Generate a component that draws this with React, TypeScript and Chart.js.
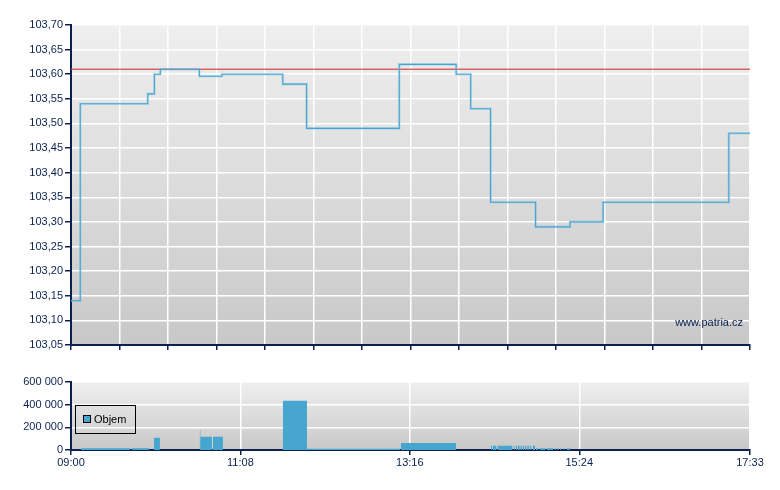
import React, { useEffect, useRef } from 'react';
import { Chart, registerables } from 'chart.js';

Chart.register(...registerables);

// ---- data ----
const SESSION_MINUTES = 513; // 09:00 -> 17:33
const priceTimes = [0, 7, 58, 63, 67.5, 97, 114, 160, 178, 248, 291, 302, 317, 351, 377, 402, 497, 513];
const priceValues = [103.14, 103.54, 103.56, 103.6, 103.61, 103.596, 103.6, 103.58, 103.49, 103.62, 103.6, 103.53, 103.34, 103.29, 103.3, 103.34, 103.48, 103.48];
const referencePrice = 103.61;

const volStart = [7.5, 46, 62.7, 97.2, 97.7, 107.3, 160, 178.3, 249.3, 317.3, 318.6, 322.4, 334.2, 336, 337.7, 339.5, 341.3, 343, 344.7, 346.8, 348.8, 351.3, 354.3, 359.4, 365.4, 367.4, 369.4, 371.9, 374.5];
const volEnd = [44.6, 59, 67.2, 97.9, 106.5, 114.8, 178.3, 248.6, 290.9, 318.1, 321.6, 333.4, 335.2, 337.2, 339, 340.7, 342.5, 344.2, 346, 347.8, 350.6, 353, 358.6, 364.4, 366.4, 368.4, 370.4, 372.7, 377];
const volValues = [16000, 16000, 108000, 176000, 117000, 117000, 435000, 11000, 61000, 38000, 38000, 38000, 38000, 38000, 38000, 38000, 38000, 38000, 38000, 38000, 38000, 15000, 15000, 15000, 15000, 15000, 15000, 15000, 15000];

const priceGridCount = 14;
const volumeTickMinutes = [0, 128, 256, 384, 513];
const volumeTickLabels = ['09:00', '11:08', '13:16', '15:24', '17:33'];
const volumeLabel = 'Objem';
const watermark = 'www.patria.cz';

// ---- styles ----
const NAVY = '#0a2150';
const BLUE = '#47a6cf';
const FONT = "'Liberation Sans', Arial, sans-serif";

function bgPlugin(id: string, c1: string, c2: string) {
  return {
    id,
    beforeDraw(chart: any) {
      const { ctx, chartArea: a } = chart;
      const g = ctx.createLinearGradient(0, a.top, 0, a.bottom);
      g.addColorStop(0, c1);
      g.addColorStop(1, c2);
      ctx.save();
      ctx.fillStyle = g;
      ctx.fillRect(a.left, a.top, a.right - a.left, a.bottom - a.top);
      ctx.restore();
    },
  };
}

const watermarkPlugin = {
  id: 'watermark',
  afterDatasetsDraw(chart: any) {
    const { ctx, chartArea: a } = chart;
    ctx.save();
    ctx.font = `11px ${FONT}`;
    ctx.fillStyle = NAVY;
    ctx.textAlign = 'right';
    ctx.textBaseline = 'alphabetic';
    ctx.fillText(watermark, a.right - 7, a.bottom - 19);
    ctx.restore();
  },
};

const legendPlugin = {
  id: 'boxLegend',
  afterDraw(chart: any) {
    const { ctx, chartArea: a } = chart;
    const x = a.left + 4;
    const y = a.top + 23;
    ctx.save();
    ctx.strokeStyle = '#000';
    ctx.lineWidth = 1;
    ctx.strokeRect(x + 0.5, y + 0.5, 60, 28);
    ctx.fillStyle = BLUE;
    ctx.fillRect(x + 8, y + 10, 7, 7);
    ctx.strokeRect(x + 8.5, y + 10.5, 7, 7);
    ctx.font = `11px ${FONT}`;
    ctx.fillStyle = '#000';
    ctx.textBaseline = 'middle';
    ctx.textAlign = 'left';
    ctx.fillText(chart.data.datasets[0].label, x + 19, y + 14.5);
    ctx.restore();
  },
};

const tickFont = { family: FONT, size: 11 };

export default function App() {
  const priceRef = useRef<HTMLCanvasElement>(null);
  const volRef = useRef<HTMLCanvasElement>(null);

  useEffect(() => {
    const priceData = priceTimes.map((t, i) => ({ x: t, y: priceValues[i] }));
    const refData = [
      { x: 0, y: referencePrice },
      { x: SESSION_MINUTES, y: referencePrice },
    ];
    const volData: any[] = [];
    volStart.forEach((s, i) => {
      volData.push({ x: s, y: volValues[i] });
      volData.push({ x: volEnd[i], y: volValues[i] });
      volData.push({ x: volEnd[i], y: null });
    });

    const priceChart = new Chart(priceRef.current!, {
      type: 'line',
      data: {
        datasets: [
          { label: 'Cena', data: priceData, stepped: true, borderColor: '#46a4d0', borderWidth: 1.1, pointRadius: 0, fill: false },
          { label: 'halo', data: priceData, stepped: true, borderColor: 'rgba(130,195,225,0.4)', borderWidth: 2.6, pointRadius: 0, fill: false },
          { label: 'ref', data: refData, borderColor: 'rgba(205,70,70,0.8)', borderWidth: 1.6, pointRadius: 0, fill: false },
        ],
      },
      options: {
        animation: false,
        responsive: false,
        layout: { padding: { top: 25, right: 30, left: 0, bottom: 0 } },
        plugins: { legend: { display: false }, tooltip: { enabled: false } },
        scales: {
          x: {
            type: 'linear',
            min: 0,
            max: SESSION_MINUTES,
            grid: { color: '#ffffff', lineWidth: 1.5, tickColor: NAVY, tickLength: 5, tickWidth: 1.5 },
            border: { color: NAVY, width: 2 },
            ticks: { display: false },
            afterBuildTicks: (s: any) => {
              s.ticks = Array.from({ length: priceGridCount + 1 }, (_, i) => ({ value: (i * SESSION_MINUTES) / priceGridCount }));
            },
            afterFit: (s: any) => {
              s.height = 15;
            },
          },
          y: {
            type: 'linear',
            min: 103.05,
            max: 103.7,
            grid: { color: '#ffffff', lineWidth: 1.5, tickColor: NAVY, tickLength: 6, tickWidth: 1.5 },
            border: { color: NAVY, width: 2 },
            ticks: {
              stepSize: 0.05,
              color: NAVY,
              font: tickFont,
              padding: 2,
              callback: (v: any) => Number(v).toFixed(2).replace('.', ','),
            },
            afterFit: (s: any) => {
              s.width = 71;
            },
          },
        },
      },
      plugins: [bgPlugin('bgTop', '#efefef', '#c8c8c8'), watermarkPlugin],
    } as any);

    const volChart = new Chart(volRef.current!, {
      type: 'line',
      data: {
        datasets: [
          {
            label: volumeLabel,
            data: volData,
            borderWidth: 0,
            borderColor: BLUE,
            backgroundColor: BLUE,
            pointRadius: 0,
            fill: 'origin',
            spanGaps: false,
          },
        ],
      },
      options: {
        animation: false,
        responsive: false,
        layout: { padding: { top: 22, right: 30, left: 0, bottom: 0 } },
        plugins: { legend: { display: false }, tooltip: { enabled: false } },
        scales: {
          x: {
            type: 'linear',
            min: 0,
            max: SESSION_MINUTES,
            grid: { color: '#ffffff', lineWidth: 1.5, tickColor: NAVY, tickLength: 5, tickWidth: 1.5 },
            border: { color: NAVY, width: 2 },
            ticks: {
              color: NAVY,
              font: tickFont,
              padding: 1,
              autoSkip: false,
              maxRotation: 0,
              callback: (_v: any, i: number) => volumeTickLabels[i],
            },
            afterBuildTicks: (s: any) => {
              s.ticks = volumeTickMinutes.map((m) => ({ value: m }));
            },
            afterFit: (s: any) => {
              s.height = 40;
            },
          },
          y: {
            type: 'linear',
            min: 0,
            max: 600000,
            grid: { color: '#ffffff', lineWidth: 1.5, tickColor: NAVY, tickLength: 6, tickWidth: 1.5 },
            border: { color: NAVY, width: 2 },
            ticks: {
              stepSize: 200000,
              color: NAVY,
              font: tickFont,
              padding: 2,
              callback: (v: any) => String(Math.round(Number(v))).replace(/\B(?=(\d{3})+(?!\d))/g, ' '),
            },
            afterFit: (s: any) => {
              s.width = 71;
            },
          },
        },
      },
      plugins: [bgPlugin('bgVol', '#efefef', '#c8c8c8'), legendPlugin],
    } as any);

    return () => {
      priceChart.destroy();
      volChart.destroy();
    };
  }, []);

  return (
    <div style={{ position: 'absolute', left: 0, top: 0, width: 780, height: 490, background: '#ffffff' }}>
      <canvas ref={priceRef} width={780} height={360} style={{ position: 'absolute', left: 0, top: 0, width: 780, height: 360 }} />
      <canvas ref={volRef} width={780} height={130} style={{ position: 'absolute', left: 0, top: 360, width: 780, height: 130 }} />
    </div>
  );
}
